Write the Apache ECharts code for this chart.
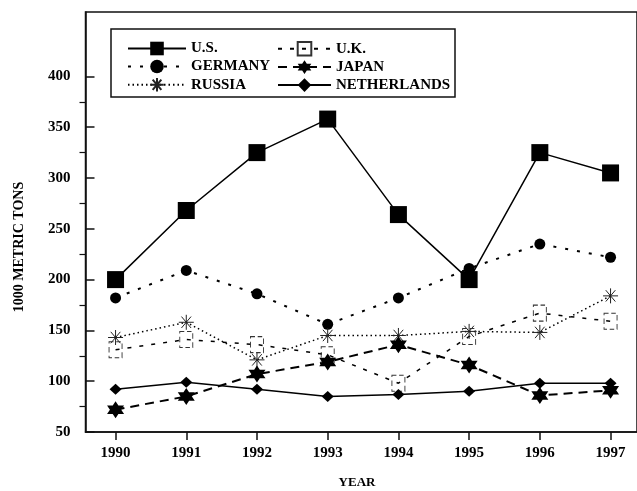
<!DOCTYPE html>
<html>
<head>
<meta charset="utf-8">
<script src="https://cdn.jsdelivr.net/npm/echarts@6/dist/echarts.min.js"></script>
<style>
  html, body { margin: 0; padding: 0; background: #fff; }
  #chart { width: 637px; height: 491px; }
</style>
</head>
<body>
<div id="chart"></div>
<script>
  // values (1000 metric tons)
  const years = [1990, 1991, 1992, 1993, 1994, 1995, 1996, 1997];
  const us = [200, 268, 325, 358, 264, 200, 325, 305];
  const germany = [182, 209, 186, 156, 182, 211, 235, 222];
  const russia = [143, 158, 121, 145, 145, 149, 148, 184];
  const uk = [131, 141, 136, 126, 98, 144, 167, 159];
  const japan = [72, 85, 107, 119, 136, 116, 86, 91];
  const netherlands = [92, 99, 92, 85, 87, 90, 98, 98];
  const yTicks = [50, 100, 150, 200, 250, 300, 350, 400];
  const yMinorTicks = [75, 125, 175, 225, 275, 325, 375];

  const font = '"Liberation Serif", "Times New Roman", serif';
  const starPath = 'path://M50,0 L93.3,75 L6.7,75 Z M50,100 L6.7,25 L93.3,25 Z';
  const asteriskPath = 'path://M50,0 L50,100 M0,50 L100,50 M18,12 L82,88 M82,12 L18,88';

  function pairs(values) {
    return years.map((y, i) => [y, values[i]]);
  }

  function makeSeries(name, values, symbol, symbolSize, lineType, lineWidth, itemStyle) {
    return {
      name: name,
      type: 'line',
      data: pairs(values),
      symbol: symbol,
      symbolSize: symbolSize,
      showAllSymbol: true,
      lineStyle: {color: '#000', width: lineWidth, type: lineType},
      itemStyle: itemStyle || {color: '#000'},
      emphasis: {disabled: true},
      animation: false
    };
  }

  let legendText = {fontFamily: font, fontWeight: 'bold', fontSize: 15, color: '#000'};

  let chart = echarts.init(document.getElementById('chart'));
  chart.setOption({
    animation: false,
    grid: {
      left: 85.5,
      right: -3,
      top: 12,
      bottom: 59,
      show: true,
      borderColor: '#111',
      borderWidth: 1.5
    },
    legend: [{
      orient: 'vertical',
      left: 122,
      top: 36,
      itemWidth: 58,
      itemHeight: 17,
      itemGap: 3,
      data: ['U.S.', 'GERMANY', 'RUSSIA'],
      textStyle: legendText
    }, {
      orient: 'vertical',
      left: 272,
      top: 36,
      itemWidth: 53,
      itemHeight: 17,
      itemGap: 3,
      data: ['U.K.', 'JAPAN', 'NETHERLANDS'],
      textStyle: legendText
    }],
    xAxis: {
      type: 'value',
      min: 1989.575,
      max: 1997.374,
      splitLine: {show: false},
      axisLine: {lineStyle: {color: '#111', width: 1.5}},
      axisTick: {show: true, inside: false, length: 8, customValues: years, lineStyle: {color: '#111', width: 1.5}},
      axisLabel: {
        customValues: years,
        formatter: v => String(v),
        margin: 14,
        fontFamily: font, fontWeight: 'bold', fontSize: 15, color: '#000'
      }
    },
    yAxis: [{
      type: 'value',
      min: 50,
      max: 463.4,
      splitLine: {show: false},
      axisLine: {show: true, lineStyle: {color: '#111', width: 1.5}},
      axisTick: {show: true, inside: true, length: 9, customValues: yTicks, lineStyle: {color: '#111', width: 1.5}},
      axisLabel: {
        customValues: yTicks,
        margin: 15,
        fontFamily: font, fontWeight: 'bold', fontSize: 15, color: '#000'
      }
    }, {
      // minor ticks pointing outwards
      type: 'value',
      position: 'left',
      min: 50,
      max: 463.4,
      splitLine: {show: false},
      axisLine: {show: false},
      axisTick: {show: true, inside: false, length: 6, customValues: yMinorTicks, lineStyle: {color: '#111', width: 1.2}},
      axisLabel: {show: false}
    }],
    graphic: [{
      type: 'rect',
      shape: {x: 111, y: 29, width: 344, height: 68},
      style: {fill: 'none', stroke: '#111', lineWidth: 1.5},
      z: 1
    }, {
      type: 'text',
      x: 19,
      y: 247,
      rotation: Math.PI / 2,
      style: {
        text: '1000 METRIC TONS',
        font: 'bold 14px ' + font,
        fill: '#000',
        align: 'center',
        verticalAlign: 'middle'
      }
    }, {
      type: 'text',
      x: 357,
      y: 483,
      style: {
        text: 'YEAR',
        font: 'bold 13px ' + font,
        fill: '#000',
        align: 'center',
        verticalAlign: 'middle'
      }
    }],
    series: [
      makeSeries('U.S.', us, 'rect', 17, 'solid', 1.5),
      makeSeries('GERMANY', germany, 'circle', 11, [3, 9], 2),
      makeSeries('RUSSIA', russia, asteriskPath, 15, [1.5, 3], 1.5,
        {color: 'rgba(0,0,0,0)', borderColor: '#222', borderWidth: 1}),
      makeSeries('U.K.', uk, 'rect', [13, 16], [4, 8], 1.5,
        {color: 'rgba(255,255,255,0)', borderColor: '#333', borderWidth: 1, borderType: [5, 3]}),
      makeSeries('JAPAN', japan, starPath, 17, [9, 6], 2),
      makeSeries('NETHERLANDS', netherlands, 'diamond', [12, 11], 'solid', 1.5)
    ]
  });
</script>
</body>
</html>
